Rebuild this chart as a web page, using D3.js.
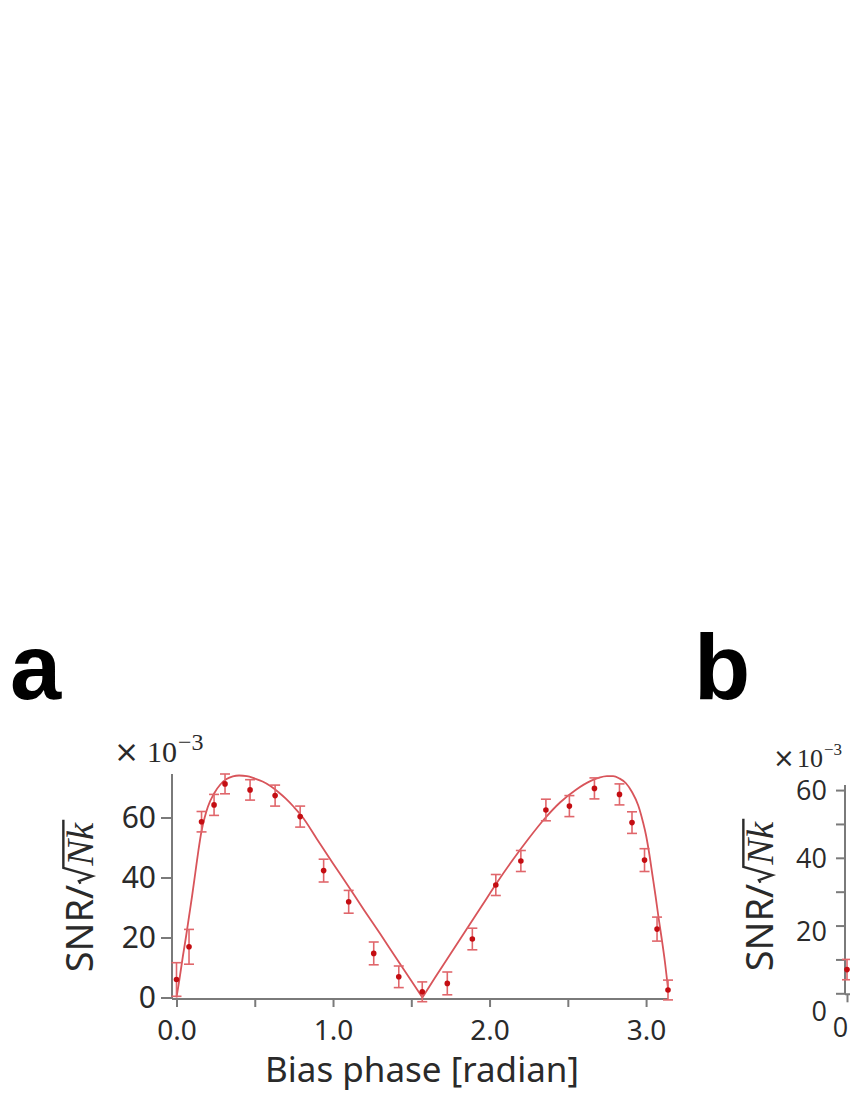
<!DOCTYPE html>
<html>
<head>
<meta charset="utf-8">
<script src="https://cdn.jsdelivr.net/npm/d3@7/dist/d3.min.js"></script>
<style>
html,body{margin:0;padding:0;background:#fff;}
svg{display:block;}
</style>
</head>
<body>
<svg id="chart" width="850" height="1100"></svg>
<script>
// ---------- Panel a data ----------
const phaseA = [0.00,0.08,0.16,0.24,0.31,0.47,0.63,0.79,0.94,1.10,1.26,1.42,1.57,1.73,1.89,2.04,2.20,2.36,2.51,2.67,2.83,2.91,2.99,3.07,3.14];
const snrA   = [6.0,16.9,58.6,64.2,71.2,69.2,67.3,60.3,42.3,31.9,14.7,6.9,1.9,4.7,19.5,37.5,45.5,62.5,63.8,69.7,67.7,58.3,45.8,22.8,2.5];
const errA   = [5.6,5.8,3.4,3.5,3.3,3.4,3.5,3.5,3.8,3.8,3.8,3.6,3.3,3.8,3.6,3.5,3.5,3.6,3.5,3.5,3.5,3.6,3.8,4.0,3.3];

// theory curve (two branches meeting at pi/2)
const curveLeftX  = [0,0.02,0.04,0.06,0.08,0.10,0.12,0.14,0.16,0.18,0.20,0.24,0.28,0.32,0.36,0.40,0.45,0.50,0.55,0.60,0.65,0.70,0.75,0.80,0.90,1.00,1.10,1.20,1.30,1.40,1.50,1.571];
const curveLeftY  = [0,6.5,13.5,20,27,34,41.5,49,55.5,60,63.5,68,71,72.8,73.7,74,73.8,73,72,70.5,68.5,66.2,63.5,60.5,52.6,44.7,36.9,29,21.3,13.4,5.6,0];
const curveRightX = [1.571,1.65,1.75,1.85,1.95,2.05,2.15,2.25,2.35,2.45,2.55,2.65,2.70,2.75,2.79,2.83,2.87,2.91,2.95,2.98,3.00,3.02,3.04,3.06,3.08,3.10,3.12,3.14];
const curveRightY = [0,6.5,14.5,22.5,30.5,38.5,46,53,59.5,65,69.2,72.3,73.3,73.8,73.8,73,71.5,68.5,64,58.5,54,48,41,34,26.5,19.5,12,3];

const xTicksA = [0,0.5,1.0,1.5,2.0,2.5,3.0];
const xTickLabelsA = ["0.0","","1.0","","2.0","","3.0"];
const yTicksA = [0,20,40,60];

// ---------- Panel b (mostly cut off) ----------
const yTicksB = [0,10,20,30,40,50,60];
const yTickLabelsB = ["0","","20","","40","","60"];
const xTicksB = [0];
const xTickLabelsB = ["0"];
const phaseB = [0.0];
const snrB = [7];
const errB = [3];

const svg = d3.select("#chart");
const AXIS = "#7a7a7a";
const TXT = "#2a2a2a";
const CURVE = "#d8545a";
const BAR = "#e0666b";
const DOT = "#c40d12";

// ---------- Panel a ----------
const x = d3.scaleLinear().domain([0, 3.14]).range([176.5, 668]);
const y = d3.scaleLinear().domain([0, 74.5]).range([997.5, 774]);

const ga = svg.append("g");

ga.append("line").attr("x1", 172).attr("x2", x(3.14)).attr("y1", y(0)+1.5).attr("y2", y(0)+1.5)
  .attr("stroke", AXIS).attr("stroke-width", 2);
ga.append("line").attr("x1", 172).attr("x2", 172).attr("y1", y(74.5)).attr("y2", y(0)+1.5)
  .attr("stroke", AXIS).attr("stroke-width", 2);

const xAxisA = d3.axisBottom(x).tickValues(xTicksA).tickSize(8).tickPadding(13)
  .tickFormat((d,i) => xTickLabelsA[i]);
const gx = ga.append("g").attr("transform", `translate(0,${y(0)+1.5})`).call(xAxisA);
gx.select(".domain").remove();
gx.selectAll(".tick line").attr("stroke", AXIS).attr("stroke-width", 2);
gx.selectAll(".tick text").attr("fill", TXT).attr("font-family", "Noto Sans").attr("font-size", 28);

const yAxisA = d3.axisLeft(y).tickValues(yTicksA).tickSize(11).tickPadding(5);
const gy = ga.append("g").attr("transform", `translate(172,0)`).call(yAxisA);
gy.select(".domain").remove();
gy.selectAll(".tick line").attr("stroke", AXIS).attr("stroke-width", 2);
gy.selectAll(".tick text").attr("fill", TXT).attr("font-family", "Noto Sans").attr("font-size", 30);

const line = d3.line().x(d => x(d[0])).y(d => y(d[1])).curve(d3.curveMonotoneX);
ga.append("path").datum(curveLeftX.map((v,i)=>[v, curveLeftY[i]]))
  .attr("d", line).attr("fill","none").attr("stroke", CURVE).attr("stroke-width", 1.8);
ga.append("path").datum(curveRightX.map((v,i)=>[v, curveRightY[i]]))
  .attr("d", line).attr("fill","none").attr("stroke", CURVE).attr("stroke-width", 1.8);

function drawPoints(g, xs, ys, es, sx, sy) {
  const data = xs.map((v,i)=>({x:v, y:ys[i], e:es[i]}));
  const eb = g.append("g").selectAll("g").data(data).join("g");
  eb.append("line").attr("x1", d=>sx(d.x)).attr("x2", d=>sx(d.x))
    .attr("y1", d=>sy(d.y-d.e)).attr("y2", d=>sy(d.y+d.e)).attr("stroke", BAR).attr("stroke-width", 1.6);
  eb.append("line").attr("x1", d=>sx(d.x)-5).attr("x2", d=>sx(d.x)+5)
    .attr("y1", d=>sy(d.y+d.e)).attr("y2", d=>sy(d.y+d.e)).attr("stroke", BAR).attr("stroke-width", 1.6);
  eb.append("line").attr("x1", d=>sx(d.x)-5).attr("x2", d=>sx(d.x)+5)
    .attr("y1", d=>sy(d.y-d.e)).attr("y2", d=>sy(d.y-d.e)).attr("stroke", BAR).attr("stroke-width", 1.6);
  eb.append("circle").attr("cx", d=>sx(d.x)).attr("cy", d=>sy(d.y)).attr("r", 2.8).attr("fill", DOT);
}
drawPoints(ga, phaseA, snrA, errA, x, y);

ga.append("text").attr("x", 422).attr("y", 1082).attr("text-anchor","middle")
  .attr("font-family","Noto Sans").attr("font-size",35).attr("fill",TXT).text("Bias phase [radian]");

function expLabel(parent, x0, yb, gap, mainSize, supSize, sup) {
  const t = parent.append("text").attr("y", yb).attr("fill", TXT)
    .attr("font-family","Liberation Serif").attr("font-size", mainSize);
  t.append("tspan").attr("x", x0).attr("font-family","DejaVu Sans").text("×");
  t.append("tspan").attr("x", x0 + gap).text("10");
  t.append("tspan").attr("font-size", supSize).attr("dy", -12).attr("dx", 1).text(sup);
}
expLabel(ga, 114, 762, 33, 30, 24, "−3");

function yLabel(parent, cx, cy, F) {
  const g = parent.append("g").attr("transform", `translate(${cx},${cy}) rotate(-90)`);
  const inner = g.append("g");
  const t1 = inner.append("text").attr("font-family","Noto Sans").attr("font-size",F).attr("fill",TXT).text("SNR/");
  const w1 = t1.node().getComputedTextLength();
  const radW = 0.42*F;
  const t2 = inner.append("text").attr("x", w1+radW+3).attr("font-family","Liberation Serif")
    .attr("font-style","italic").attr("font-size",F*1.02).attr("fill",TXT).text("Nk");
  const w2 = t2.node().getComputedTextLength();
  const total = w1+radW+3+w2+3;
  const top = -0.78*F;
  const a = w1+1;
  inner.append("path")
    .attr("d", `M${a},${-0.33*F} L${a+0.07*F},${-0.37*F} L${a+0.2*F},${-0.02*F} L${a+radW},${top} H${total}`)
    .attr("fill","none").attr("stroke",TXT).attr("stroke-width",2.4).attr("stroke-linejoin","miter");
  inner.attr("transform", `translate(${-total/2},0)`);
}
yLabel(ga, 93, 896, 38);

ga.append("text").attr("x", 10).attr("y", 699).attr("font-family","Liberation Sans")
  .attr("font-weight","bold").attr("font-size", 92).attr("fill","#000").text("a");

// ---------- Panel b ----------
const xb = d3.scaleLinear().domain([0, 3.14]).range([847, 1340]);
const yb = d3.scaleLinear().domain([0, 61.5]).range([993.3, 785]);
const gb = svg.append("g");
gb.append("line").attr("x1", 845).attr("x2", 900).attr("y1", yb(0)+1).attr("y2", yb(0)+1)
  .attr("stroke", AXIS).attr("stroke-width", 2);
gb.append("line").attr("x1", 845).attr("x2", 845).attr("y1", yb(61.5)).attr("y2", yb(0)+1)
  .attr("stroke", AXIS).attr("stroke-width", 2);
const yAxisB = d3.axisLeft(yb).tickValues(yTicksB).tickSize(9).tickPadding(9)
  .tickFormat((d,i)=>yTickLabelsB[i]);
const gyb = gb.append("g").attr("transform","translate(845,0)").call(yAxisB);
gyb.select(".domain").remove();
gyb.selectAll(".tick line").attr("stroke", AXIS).attr("stroke-width", 2);
gyb.selectAll(".tick text").attr("fill", TXT).attr("font-family","Open Sans").attr("font-size",27)
  .attr("dy", d => d === 0 ? "1.0em" : (d === 20 ? "0.55em" : "0.35em"));
const xAxisB = d3.axisBottom(xb).tickValues(xTicksB).tickSize(8).tickPadding(16)
  .tickFormat((d,i)=> xTickLabelsB[i]);
const gxb = gb.append("g").attr("transform", `translate(0,${yb(0)+1})`).call(xAxisB);
gxb.select(".domain").remove();
gxb.selectAll(".tick line").attr("stroke", AXIS).attr("stroke-width", 2);
gxb.selectAll(".tick text").attr("fill", TXT).attr("font-family","Open Sans").attr("font-size",27)
  .attr("dx", -7);
drawPoints(gb, phaseB, snrB, errB, xb, yb);
expLabel(gb, 773, 767, 24, 26, 17, "−3");
yLabel(gb, 773, 895, 38);
gb.append("text").attr("x", 694).attr("y", 699).attr("font-family","Liberation Sans")
  .attr("font-weight","bold").attr("font-size", 92).attr("fill","#000").text("b");
</script>
</body>
</html>
